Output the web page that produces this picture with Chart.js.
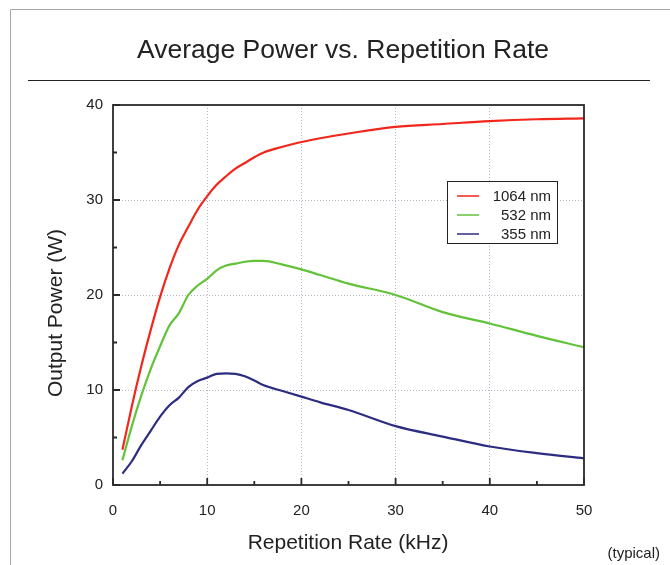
<!DOCTYPE html>
<html>
<head>
<meta charset="utf-8">
<title>Average Power vs. Repetition Rate</title>
<script src="https://cdn.jsdelivr.net/npm/chart.js@4/dist/chart.umd.min.js"></script>
<style>
  body { margin: 0; background: #fff; }
  canvas { display: block; }
</style>
</head>
<body>
<canvas id="powerChart" width="670" height="565"></canvas>
<script>
// repetition rate (kHz) shared by all three curves
const repRate = [1, 2, 3, 4, 5, 6, 7, 8, 9, 10, 11, 12, 13, 14, 15, 16, 18, 20, 22, 25, 30, 35, 40, 45, 50];

// output power (W)
const power1064 = [3.7, 8.3, 12.5, 16.3, 19.8, 22.8, 25.3, 27.2, 29.0, 30.4, 31.6, 32.5, 33.3, 33.9, 34.5, 35.0, 35.6, 36.1, 36.5, 37.0, 37.7, 38.0, 38.3, 38.5, 38.6];
const power532 = [2.6, 6.2, 9.4, 12.2, 14.6, 16.8, 18.1, 20.0, 21.0, 21.7, 22.6, 23.1, 23.3, 23.5, 23.6, 23.6, 23.2, 22.7, 22.1, 21.2, 20.0, 18.2, 17.0, 15.7, 14.5];
const power355 = [1.2, 2.5, 4.2, 5.7, 7.2, 8.4, 9.2, 10.3, 10.95, 11.3, 11.7, 11.75, 11.7, 11.45, 11.0, 10.5, 9.9, 9.3, 8.7, 7.9, 6.2, 5.1, 4.05, 3.35, 2.8];

const seriesLabels = ['1064 nm', '532 nm', '355 nm'];
const seriesColors = ['#f2261b', '#62c23a', '#2c2d80'];

const xTicks = [0, 10, 20, 30, 40, 50];
const yTicks = [0, 10, 20, 30, 40];

const FONT = "'Liberation Sans', Arial, Helvetica, sans-serif";

function toPoints(values) {
  return repRate.map((x, i) => ({ x: x, y: values[i] }));
}

// frame, title, plot box, inward ticks, axis titles and legend
const decorations = {
  id: 'decorations',
  beforeDraw(chart) {
    const ctx = chart.ctx;
    ctx.save();
    ctx.fillStyle = '#fff';
    ctx.fillRect(0, 0, chart.width, chart.height);
    ctx.restore();
  },
  afterDraw(chart) {
    const ctx = chart.ctx;
    const area = chart.chartArea;
    const xs = chart.scales.x;
    const ys = chart.scales.y;
    ctx.save();

    // outer page frame
    ctx.strokeStyle = '#a6a6a6';
    ctx.lineWidth = 1;
    ctx.beginPath();
    ctx.moveTo(10.5, chart.height);
    ctx.lineTo(10.5, 9.5);
    ctx.lineTo(chart.width, 9.5);
    ctx.stroke();

    // title and rule
    ctx.fillStyle = '#222';
    ctx.font = '26.5px ' + FONT;
    ctx.textAlign = 'center';
    ctx.textBaseline = 'alphabetic';
    ctx.fillText('Average Power vs. Repetition Rate', 343, 58);
    ctx.strokeStyle = '#222';
    ctx.beginPath();
    ctx.moveTo(28, 80.5);
    ctx.lineTo(650, 80.5);
    ctx.stroke();

    // plot box
    ctx.strokeStyle = '#2a2a2a';
    ctx.lineWidth = 1.8;
    ctx.strokeRect(area.left, area.top, area.right - area.left, area.bottom - area.top);

    // inward ticks, major every 10 and minor every 5
    ctx.beginPath();
    xs.ticks.forEach(t => {
      const px = xs.getPixelForValue(t.value);
      const len = t.value % 10 === 0 ? 7 : 4;
      ctx.moveTo(px, area.bottom);
      ctx.lineTo(px, area.bottom - len);
    });
    ys.ticks.forEach(t => {
      const py = ys.getPixelForValue(t.value);
      const len = t.value % 10 === 0 ? 7 : 4;
      ctx.moveTo(area.left, py);
      ctx.lineTo(area.left + len, py);
    });
    ctx.stroke();

    // axis titles
    ctx.fillStyle = '#222';
    ctx.font = '21px ' + FONT;
    ctx.textAlign = 'center';
    ctx.fillText('Repetition Rate (kHz)', 348, 549);
    ctx.save();
    ctx.translate(62, 313);
    ctx.rotate(-Math.PI / 2);
    ctx.fillText('Output Power (W)', 0, 0);
    ctx.restore();

    ctx.font = '15px ' + FONT;
    ctx.textAlign = 'right';
    ctx.fillText('(typical)', 660, 558);

    // legend
    const box = { left: 447.5, top: 181.5, width: 110, height: 62 };
    ctx.fillStyle = '#fff';
    ctx.fillRect(box.left, box.top, box.width, box.height);
    ctx.strokeStyle = '#222';
    ctx.lineWidth = 1;
    ctx.strokeRect(box.left, box.top, box.width, box.height);
    ctx.textBaseline = 'middle';
    chart.data.datasets.forEach((ds, i) => {
      const rowY = 196 + i * 19;
      ctx.strokeStyle = ds.borderColor;
      ctx.lineWidth = 1.5;
      ctx.beginPath();
      ctx.moveTo(457, rowY);
      ctx.lineTo(479, rowY);
      ctx.stroke();
      ctx.fillStyle = '#222';
      ctx.fillText(ds.label, 551, rowY + 1);
    });

    ctx.restore();
  }
};

function drawChart() {
  const ctx = document.getElementById('powerChart').getContext('2d');
  const values = [power1064, power532, power355];

  new Chart(ctx, {
    type: 'line',
    data: {
      datasets: values.map((v, i) => ({
        label: seriesLabels[i],
        data: toPoints(v),
        borderColor: seriesColors[i],
        borderWidth: 2.2,
        pointRadius: 0,
        fill: false,
        cubicInterpolationMode: 'monotone'
      }))
    },
    options: {
      responsive: false,
      animation: false,
      devicePixelRatio: 1,
      layout: { padding: { left: 0, top: 105, right: 86, bottom: 0 } },
      plugins: {
        legend: { display: false },
        title: { display: false },
        tooltip: { enabled: false }
      },
      scales: {
        x: {
          type: 'linear',
          min: 0,
          max: 50,
          afterFit: scale => { scale.height = 80; },
          ticks: {
            stepSize: 5,
            padding: 17,
            color: '#222',
            font: { family: FONT, size: 15 },
            callback: v => xTicks.includes(v) ? String(v) : ''
          },
          grid: {
            drawTicks: false,
            color: c => (c.tick && c.tick.value % 10 === 0 && c.tick.value > 0 && c.tick.value < 50) ? '#b4b4c4' : 'transparent',
            lineWidth: 1
          },
          // in v4 the grid line dash is read from border.dash
          border: { display: false, dash: [1, 2] }
        },
        y: {
          min: 0,
          max: 40,
          afterFit: scale => { scale.width = 113; },
          ticks: {
            stepSize: 5,
            padding: 10,
            color: '#222',
            font: { family: FONT, size: 15 },
            callback: v => yTicks.includes(v) ? String(v) : ''
          },
          grid: {
            drawTicks: false,
            color: c => (c.tick && c.tick.value % 10 === 0 && c.tick.value > 0 && c.tick.value < 40) ? '#b4b4c4' : 'transparent',
            lineWidth: 1
          },
          border: { display: false, dash: [1, 2] }
        }
      }
    },
    plugins: [decorations]
  });
}

drawChart();
</script>
</body>
</html>
